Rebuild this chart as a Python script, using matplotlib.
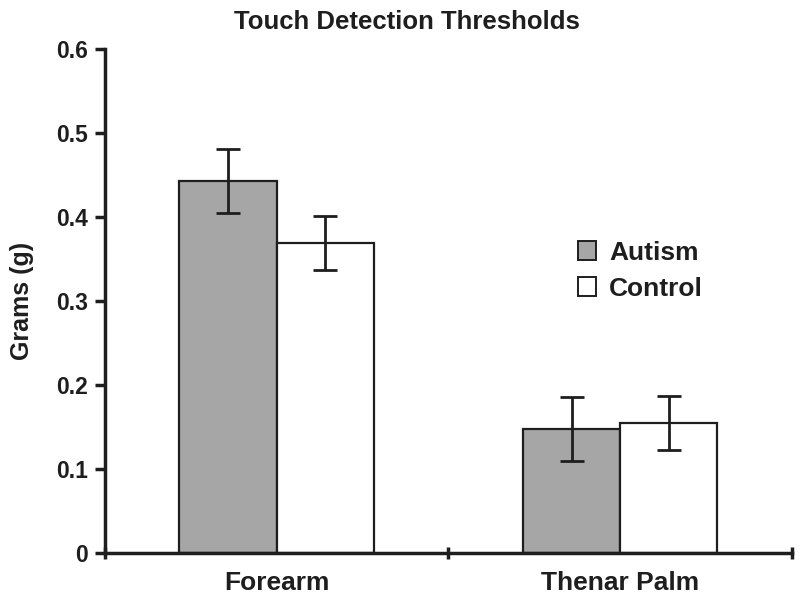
import numpy as np
import matplotlib
matplotlib.use('Agg')
import matplotlib.pyplot as plt
from matplotlib.patches import Patch

# === Data ===
categories = ['Forearm', 'Thenar Palm']
groups = ['Autism', 'Control']
autism_means = [0.443, 0.148]
autism_err = [0.038, 0.038]
control_means = [0.369, 0.155]
control_err = [0.032, 0.032]

plt.rcParams['font.family'] = ['Liberation Sans', 'DejaVu Sans']
plt.rcParams['font.weight'] = 'bold'
plt.rcParams['axes.titleweight'] = 'bold'
plt.rcParams['axes.labelweight'] = 'bold'

ink = '#1e1e1e'
gray = '#a6a6a6'

fig = plt.figure(figsize=(8, 6.06), dpi=100)
ax = fig.add_axes([0.131, 0.0875, 0.859, 0.832])

centers = np.arange(len(categories)) + 0.5
width = 0.283

ax.bar(centers - width / 2, autism_means, width, color=gray, edgecolor=ink, linewidth=1.6,
       yerr=autism_err, error_kw=dict(ecolor=ink, elinewidth=2, capsize=8.5, capthick=2))
ax.bar(centers + width / 2, control_means, width, color='white', edgecolor=ink, linewidth=1.6,
       yerr=control_err, error_kw=dict(ecolor=ink, elinewidth=2, capsize=8.5, capthick=2))

ax.set_xlim(0, len(categories))
ax.set_ylim(0, 0.6)
ax.set_yticks(np.arange(0, 0.61, 0.1))
ax.set_yticklabels(['0'] + ['%.1f' % v for v in np.arange(0.1, 0.61, 0.1)])

ax.set_xticks(np.arange(len(categories) + 1))
ax.set_xticklabels([])
ax.set_xticks(centers, minor=True)
ax.set_xticklabels(categories, minor=True)
ax.tick_params(axis='x', which='major', length=8, width=2.5, color=ink, direction='inout')
ax.tick_params(axis='x', which='minor', length=0, labelsize=19, pad=13, colors=ink)
ax.tick_params(axis='y', length=7, width=2.5, color=ink, labelsize=16.5, labelcolor=ink, pad=5)

for s in ['top', 'right']:
    ax.spines[s].set_visible(False)
for s in ['left', 'bottom']:
    ax.spines[s].set_linewidth(2.5)
    ax.spines[s].set_color(ink)

ax.set_ylabel('Grams (g)', fontsize=18, color=ink, labelpad=16)
ax.set_title('Touch Detection Thresholds', fontsize=18.5, color=ink, pad=14, x=0.44)

handles = [Patch(facecolor=gray, edgecolor=ink, linewidth=1.4),
           Patch(facecolor='white', edgecolor=ink, linewidth=1.4)]
leg = ax.legend(handles, groups, loc='center left', bbox_to_anchor=(0.688, 0.56),
                frameon=False, fontsize=19, handlelength=0.7, handleheight=0.7,
                handletextpad=0.5, labelspacing=0.45, borderaxespad=0, borderpad=0)
for t in leg.get_texts():
    t.set_color(ink)

fig.savefig('out.png', dpi=100)
